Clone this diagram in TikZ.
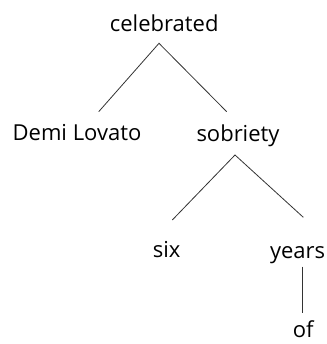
\documentclass[tikz,border=0pt]{standalone}
\usepackage{fontspec}
\setmainfont{Open Sans}
\begin{document}
\begin{tikzpicture}[x=1pt,y=-1pt,
  word/.style={anchor=base,inner sep=0pt,font=\fontsize{22}{26}\selectfont},
  branch/.style={draw=black!80,line width=0.8pt}]
\useasboundingbox (0,0) rectangle (326,344);

% words of the tree
\node[word] (celebrated) at (164.2,31.7) {celebrated};
\node[word] (demi) at (77,141) {Demi Lovato};
\node[word] (sobriety) at (238,141.5) {sobriety};
\node[word] (six) at (166.7,257.7) {six};
\node[word] (years) at (297.6,258.3) {years};
\node[word] (of) at (303.3,337.5) {of};

% branch end points
\coordinate (c-top) at (159,43.3);
\coordinate (c-left) at (98.7,111.7);
\coordinate (c-right) at (226.7,111.7);
\coordinate (s-top) at (235,155);
\coordinate (s-left) at (172.3,220);
\coordinate (s-right) at (303.3,217.3);
\coordinate (y-top) at (302.7,266.7);
\coordinate (y-bottom) at (302.7,313.3);

% branches
\draw[branch] (c-left) -- (c-top) -- (c-right);
\draw[branch] (s-left) -- (s-top) -- (s-right);
\draw[branch] (y-top) -- (y-bottom);
\end{tikzpicture}
\end{document}
